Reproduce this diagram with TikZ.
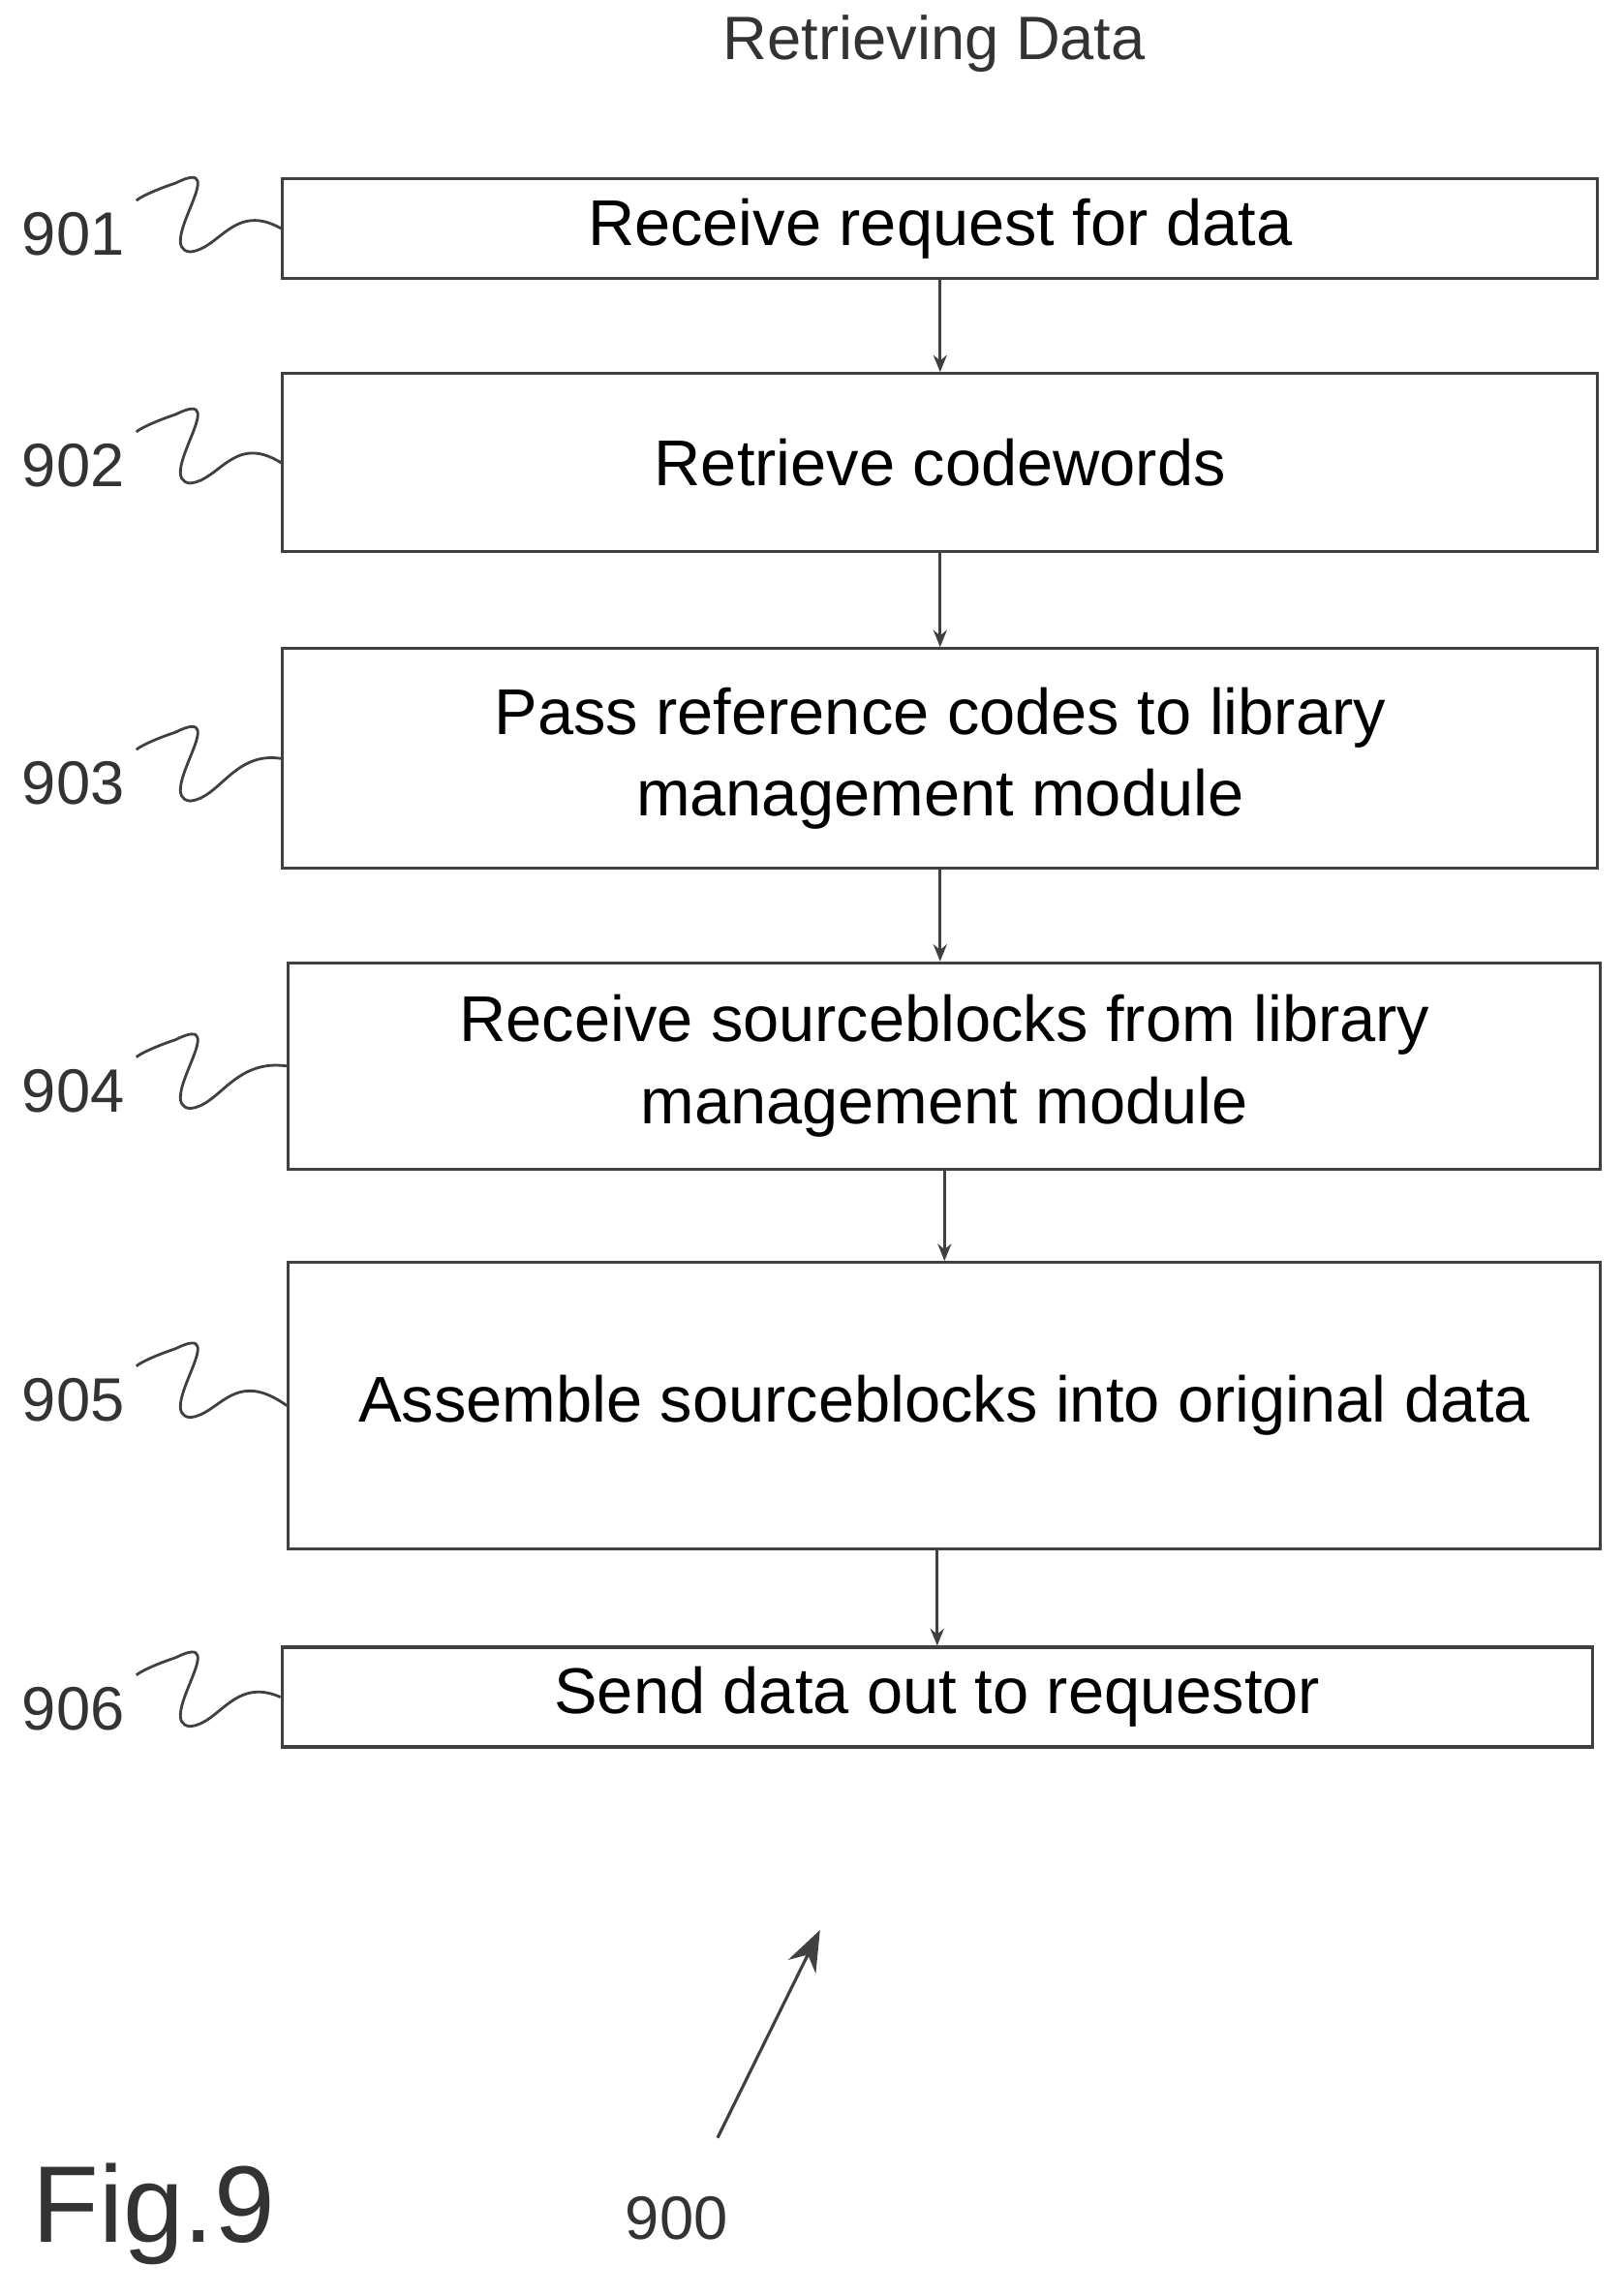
\documentclass[tikz,border=0pt]{standalone}
\usepackage{fontspec}
\setmainfont{Liberation Sans}
\usetikzlibrary{arrows.meta}
\tikzset{
  stepbox/.style={draw=black!75, line width=0.9pt, inner sep=2pt, align=center, font=\fontsize{19}{24}\selectfont},
  refnum/.style={font=\fontsize{18}{20}\selectfont, text=black!80},
  flow/.style={draw=black!75, line width=0.8pt, -{Stealth[length=5pt,width=4pt]}},
  wiggle/.style={draw=black!75, line width=0.8pt}
}
\begin{document}
\begin{tikzpicture}[x=0.01512cm,y=-0.01512cm]
\useasboundingbox (0,0) rectangle (1109,1568);

\node[font=\fontsize{18}{21}\selectfont, text=black!80] (title) at (638,30) {Retrieving Data};

\node[stepbox, minimum width=13.58cm, minimum height=1.03cm] (s1) at (642,156) {Receive request for data};
\node[stepbox, minimum width=13.58cm, minimum height=1.84cm] (s2) at (642,316) {Retrieve codewords};
\node[stepbox, minimum width=13.58cm, minimum height=2.27cm] (s3) at (642,518) {Pass reference codes to library\\management module};
\node[stepbox, minimum width=13.55cm, minimum height=2.13cm] (s4) at (645,728) {Receive sourceblocks from library\\management module};
\node[stepbox, minimum width=13.55cm, minimum height=2.96cm] (s5) at (645,960) {Assemble sourceblocks into original data};
\node[stepbox, minimum width=13.53cm, minimum height=1.03cm] (s6) at (640,1159) {Send data out to requestor};

\draw[flow] (s1.south) -- (s1.south |- s2.north);
\draw[flow] (s2.south) -- (s2.south |- s3.north);
\draw[flow] (s3.south) -- (s3.south |- s4.north);
\draw[flow] (s4.south) -- (s4.south |- s5.north);
\draw[flow] (s6.north |- s5.south) -- (s6.north);

% reference numerals with squiggles
\foreach \n/\s/\y in {901/s1/160, 902/s2/318, 903/s3/535, 904/s4/745, 905/s5/956, 906/s6/1167}{
  \node[refnum] (r\n) at (50,\y) {\n};
  \draw[wiggle] (\s.west) .. controls (160,\y-22) and (150,\y+10) .. (130,\y+12)
    .. controls (105,\y+10) and (160,\y-55) .. (120,\y-35) .. controls (105,\y-30) and (95,\y-25) .. (r\n.north east);
}

\node[font=\fontsize{18}{21}\selectfont, text=black!80] (fig) at (462,1515) {900};
\coordinate (tail) at (490,1460);
\coordinate (tip) at (560,1318);
\draw[draw=black!75, line width=0.9pt, -{Stealth[length=12pt,width=9pt]}] (tail) -- (tip);
\node[font=\fontsize{32}{36}\selectfont, text=black!80] (figlabel) at (105,1512) {Fig.9};
\end{tikzpicture}
\end{document}
